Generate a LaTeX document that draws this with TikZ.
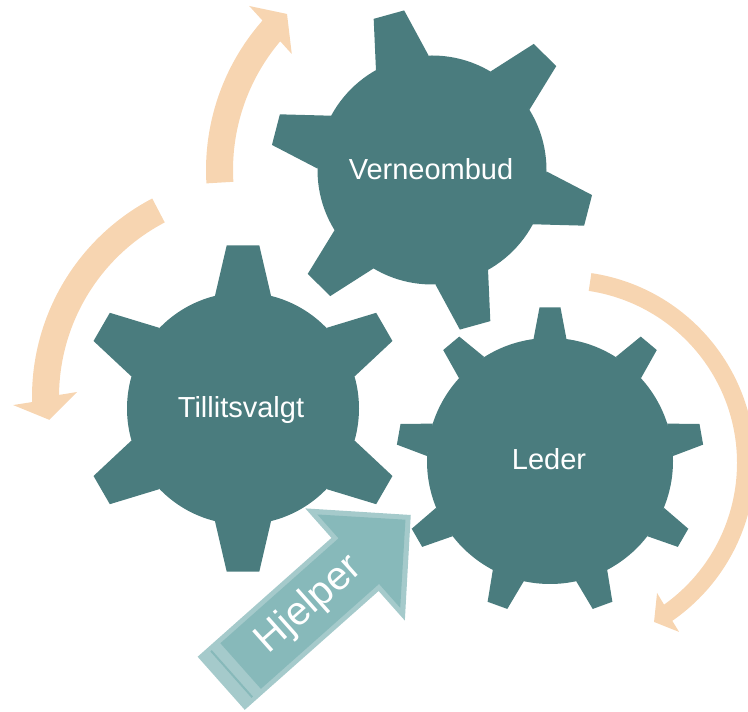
\documentclass[tikz,border=0pt]{standalone}
\usepackage{fontspec}
\setmainfont{Liberation Sans}
\definecolor{gearc}{HTML}{4A7C7E}
\definecolor{orangec}{HTML}{F7D5B1}
\definecolor{hjfillc}{HTML}{87B9BA}
\definecolor{hjborderc}{HTML}{A5CACB}
\tikzset{
  gear/.style={fill=gearc},
  cyclearrow/.style={fill=orangec},
  hjborder/.style={fill=hjborderc},
  hjfill/.style={fill=hjfillc},
  hjline/.style={draw=hjfillc, line width=2pt},
  gearlabel/.style={text=white, font=\fontsize{29}{31}\selectfont, inner sep=0pt},
  hjlabel/.style={text=white, font=\fontsize{40}{42}\selectfont, inner sep=0pt}
}
% #1,#2 centre, #3 body radius, #4 tip radius, #5 base half-angle,
% #6 tip half-angle, #7 angle offset, #8 number of teeth
\newcommand\gearshape[8]{%
  \begin{scope}[shift={(#1,#2)}]
    \fill[gear] (0,0) circle (#3);
    \foreach \k in {1,...,#8}{%
      \pgfmathsetmacro\gang{#7+360/#8*\k}
      \fill[gear] ({\gang-#5}:#3) -- ({\gang-#6}:#4) -- ({\gang+#6}:#4) -- ({\gang+#5}:#3) -- cycle;
    }
  \end{scope}}
\begin{document}
\begin{tikzpicture}[x=1pt,y=1pt]
\useasboundingbox (0,0) rectangle (748,712);
\clip (0,0) rectangle (748,712);

% circular arrows
\begin{scope}[shift={(432,542)}]
  \fill[cyclearrow] (183.4:226) arc[start angle=183.4,end angle=138.6,radius=226]
    -- (138.1:245.6) -- (132.9:213) -- (140.4:182) -- (139.7:199)
    arc[start angle=139.7,end angle=183.4,radius=199] -- cycle;
\end{scope}
\begin{scope}[shift={(256,315)}]
  \fill[cyclearrow] (117.6:224) arc[start angle=117.6,end angle=181.3,radius=224]
    -- (181.9:243) -- (186.3:208) -- (178.4:179) -- (179.4:197)
    arc[start angle=179.4,end angle=117.6,radius=197] -- cycle;
\end{scope}
\begin{scope}[shift={(563,249)}]
  \fill[cyclearrow] (81.5:192) arc[start angle=81.5,end angle=-55.3,radius=192]
    -- (-55.5:205) -- (-60.2:183.2) -- (-54.1:160.4) -- (-54.5:174)
    arc[start angle=-54.5,end angle=81.5,radius=174] -- cycle;
\end{scope}

% gears
\gearshape{432}{542}{114.5}{162}{13.8}{5.6}{-254.5}{6}
\gearshape{243}{303.5}{116}{164}{14}{5.7}{-270}{6}
\gearshape{550}{251}{123}{154}{7.7}{3.9}{50}{9}

\node[gearlabel] (verneombud) at (431,543) {Verneombud};
\node[gearlabel] (tillitsvalgt) at (241,302) {Tillitsvalgt};
\node[gearlabel] (leder) at (549,253) {Leder};

% Hjelper arrow
\begin{scope}[shift={(221.2,28.7)}, rotate=41.6]
  \fill[hjborder] (0,-35.5) -- (179,-35.5) -- (179,-75) -- (253.5,0) -- (179,75) -- (179,35.5) -- (0,35.5) -- cycle;
  \fill[hjfill] (26,-30.5) -- (184,-30.5) -- (184,-62.4) -- (246.4,0) -- (184,62.4) -- (184,30.5) -- (26,30.5) -- cycle;
  \draw[hjline] (14,-31) -- (14,31);
  \node[hjlabel, rotate=41.6] (hjelper) at (118,0) {Hjelper};
\end{scope}
\end{tikzpicture}
\end{document}
